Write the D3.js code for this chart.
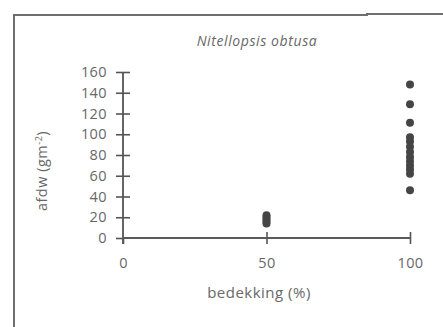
<!DOCTYPE html>
<html><head><meta charset="utf-8">
<script src="https://cdn.jsdelivr.net/npm/d3@7"></script>
<style>
html,body{margin:0;padding:0;background:#fff;}
svg{display:block;}
text{font-family:"Open Sans","Noto Sans",sans-serif;fill:#686868;}
</style></head><body>
<svg id="c" width="443" height="327"></svg>
<script>
const title = "Nitellopsis obtusa";
const xLabel = "bedekking (%)";
const yTicks = [0,20,40,60,80,100,120,140,160];
const xTicks = [0,50,100];
const cover = [50,50,50,50,50, 100,100,100,100,100,100,100,100,100,100,100,100,100];
const afdw  = [22,20,18,16,14, 148,129,111,97,93,88,83,78,74,70,66,62,46];

const svg = d3.select("#c");
const x = d3.scaleLinear().domain([0,100]).range([123,410]);
const y = d3.scaleLinear().domain([0,160]).range([238,72]);

// frame
svg.append("path").attr("d","M14,327 L14,15 L367,15 L367,14 L443,14")
  .attr("fill","none").attr("stroke","#6f6f6f").attr("stroke-width",2);

// title
svg.append("text").attr("x",257).attr("y",46).attr("text-anchor","middle")
  .attr("font-style","italic").attr("font-size",14).attr("letter-spacing",0.6).text(title);

// y axis
const yAx = svg.append("g").attr("transform",`translate(${x(0)},0)`)
  .call(d3.axisLeft(y).tickValues(yTicks).tickSize(7).tickPadding(9));
yAx.select(".domain").remove();
yAx.selectAll(".tick line").attr("x2",-7).attr("x1",7).attr("stroke","#555").attr("stroke-width",1.6);
yAx.selectAll(".tick").filter(d=>d===0).select("line").attr("x1",0);
yAx.selectAll("text").attr("font-size",14.5).attr("fill","#686868").attr("letter-spacing",0.4)
  .attr("font-family","Open Sans, Noto Sans, sans-serif");
svg.append("line").attr("x1",x(0)).attr("x2",x(0)).attr("y1",y(160)).attr("y2",y(0)+6)
  .attr("stroke","#555").attr("stroke-width",1.8);

// x axis
const xAx = svg.append("g").attr("transform",`translate(0,${y(0)})`)
  .call(d3.axisBottom(x).tickValues(xTicks).tickSize(7).tickPadding(13));
xAx.select(".domain").remove();
xAx.selectAll(".tick line").attr("y1",-6).attr("y2",6).attr("stroke","#555").attr("stroke-width",1.6);
xAx.selectAll(".tick").filter(d=>d===0).select("line").attr("y1",0);
xAx.selectAll("text").attr("font-size",14.5).attr("fill","#686868").attr("letter-spacing",0.4)
  .attr("font-family","Open Sans, Noto Sans, sans-serif");
svg.append("line").attr("x1",x(0)).attr("x2",x(100)).attr("y1",y(0)).attr("y2",y(0))
  .attr("stroke","#5a5a5a").attr("stroke-width",1.8);

// points
svg.append("g").selectAll("circle").data(afdw).join("circle")
  .attr("cx",(d,i)=>x(cover[i])).attr("cy",d=>y(d)).attr("r",4)
  .attr("fill","#454545");

// labels
svg.append("text").attr("x",259).attr("y",298).attr("text-anchor","middle")
  .attr("font-size",15).attr("letter-spacing",0.5).text(xLabel);
svg.append("text").attr("transform","translate(47,171) rotate(-90)")
  .attr("text-anchor","middle").attr("font-size",14.5).attr("letter-spacing",0.5)
  .html('afdw (gm<tspan dy="-5" font-size="9">-2</tspan><tspan dy="5">)</tspan>');
</script>
</body></html>
